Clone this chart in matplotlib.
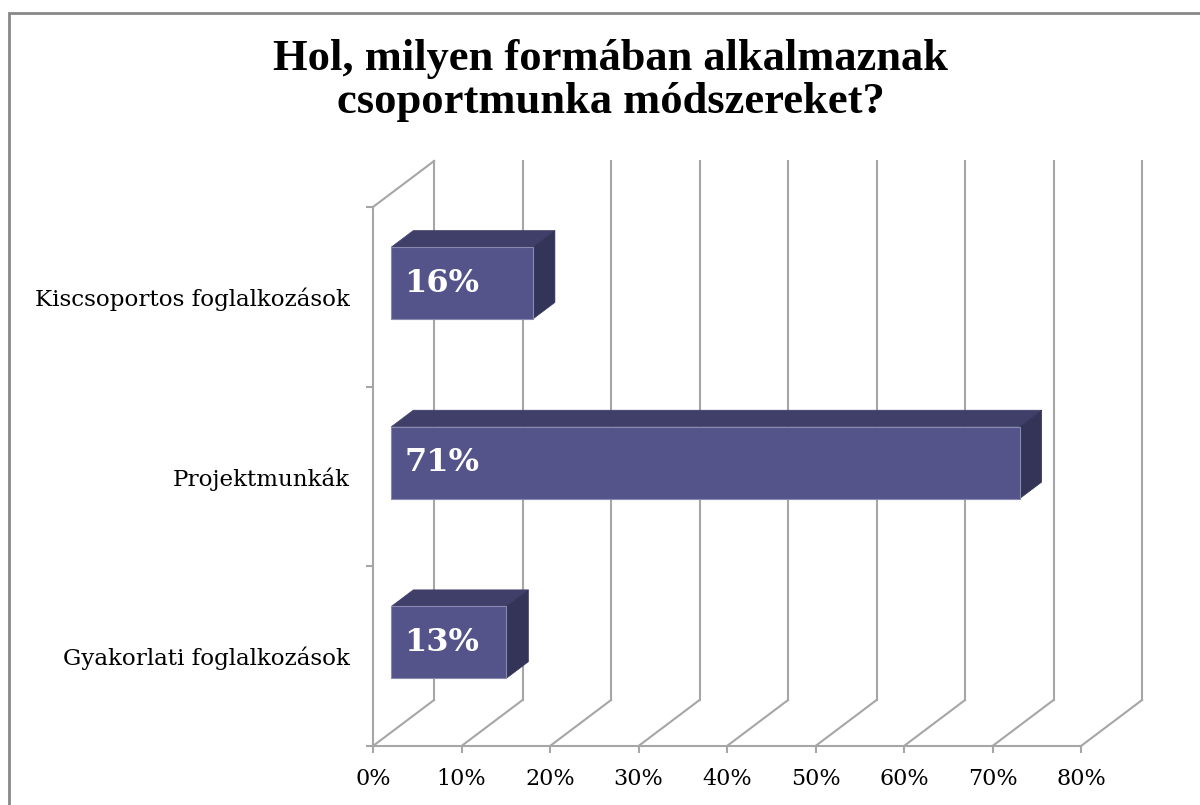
import numpy as np
import matplotlib.pyplot as plt
from matplotlib.patches import Polygon, Rectangle

# ----------------------------
# Adatok
# ----------------------------
title = "Hol, milyen formában alkalmaznak\ncsoportmunka módszereket?"
categories = ["Gyakorlati foglalkozások", "Projektmunkák", "Kiscsoportos foglalkozások"]
values = [13, 71, 16]
labels = ["13%", "71%", "16%"]
x_ticks = [0, 10, 20, 30, 40, 50, 60, 70, 80]
x_ticklabels = ["0%", "10%", "20%", "30%", "40%", "50%", "60%", "70%", "80%"]

# ----------------------------
# Stílus
# ----------------------------
serif = ["DejaVu Serif"]
grid_c = "#a6a6a6"
front_c = "#54548a"
top_c = "#3f3f69"
side_c = "#343458"

# 3D eltolás (mélység) adategységben
DX, DY = 6.9, 0.256
f1, f2 = 0.30, 0.66
half = 0.2

fig = plt.figure(figsize=(12, 8.05), dpi=100)
fig.patch.set_facecolor("white")

ax = fig.add_axes([373 / 1200, 59 / 805, 708 / 1200, 539 / 805])
ax.set_xlim(0, 80)
ax.set_ylim(-0.5, 2.5)
for s in ax.spines.values():
    s.set_visible(False)
ax.patch.set_visible(False)

# hátsó rácsvonalak + padló átlók
for v in x_ticks:
    ax.plot([v + DX, v + DX], [-0.5 + DY, 2.5 + DY], color=grid_c, lw=1.5,
            clip_on=False, zorder=1)
    ax.plot([v, v + DX], [-0.5, -0.5 + DY], color=grid_c, lw=1.5,
            clip_on=False, zorder=1)

# bal fal + alapvonal
ax.plot([0, 0], [-0.5, 2.5], color=grid_c, lw=1.5, clip_on=False, zorder=1)
ax.plot([0, DX], [2.5, 2.5 + DY], color=grid_c, lw=1.5, clip_on=False, zorder=1)
ax.plot([0, 80], [-0.5, -0.5], color=grid_c, lw=1.5, clip_on=False, zorder=1)

# 3D oszlopok
for i, (v, lab) in enumerate(zip(values, labels)):
    y0, y1 = i - half, i + half
    front = [(f1 * DX, y0 + f1 * DY), (v + f1 * DX, y0 + f1 * DY),
             (v + f1 * DX, y1 + f1 * DY), (f1 * DX, y1 + f1 * DY)]
    top = [(f1 * DX, y1 + f1 * DY), (v + f1 * DX, y1 + f1 * DY),
           (v + f2 * DX, y1 + f2 * DY), (f2 * DX, y1 + f2 * DY)]
    side = [(v + f1 * DX, y0 + f1 * DY), (v + f2 * DX, y0 + f2 * DY),
            (v + f2 * DX, y1 + f2 * DY), (v + f1 * DX, y1 + f1 * DY)]
    ax.add_patch(Polygon(top, closed=True, fc=top_c, ec=top_c, lw=0.5,
                         clip_on=False, zorder=3))
    ax.add_patch(Polygon(side, closed=True, fc=side_c, ec=side_c, lw=0.5,
                         clip_on=False, zorder=3))
    ax.add_patch(Polygon(front, closed=True, fc=front_c, ec="#8a8ab0", lw=0.8,
                         clip_on=False, zorder=4))
    ax.text(f1 * DX + 1.5, i + f1 * DY, lab, color="white", fontsize=23,
            fontweight="bold", family=serif, va="center", ha="left", zorder=5)

# tengelyfeliratok
ax.set_xticks(x_ticks)
ax.set_xticklabels(x_ticklabels, family=serif, fontsize=16)
ax.tick_params(axis="x", length=5, width=1.5, color=grid_c, pad=11)

ax.set_yticks(range(len(categories)))
ax.set_yticklabels(categories, family=serif, fontsize=16.6)
ax.set_yticks([-0.5, 0.5, 1.5, 2.5], minor=True)
ax.tick_params(axis="y", which="major", length=0, pad=17)
ax.tick_params(axis="y", which="minor", length=5, width=1.5, color=grid_c)

# cím
fig.text(0.509, 0.900, title, ha="center", va="center", fontsize=32,
         fontweight="bold", family=["Liberation Serif"], linespacing=1.1)

# keret
fig.add_artist(Rectangle((9 / 1200, -0.05), 1.1, 1 - 13 / 805 + 0.05,
                         transform=fig.transFigure, fill=False,
                         ec="#888888", lw=2, clip_on=False))

fig.savefig("out.png", dpi=100)
